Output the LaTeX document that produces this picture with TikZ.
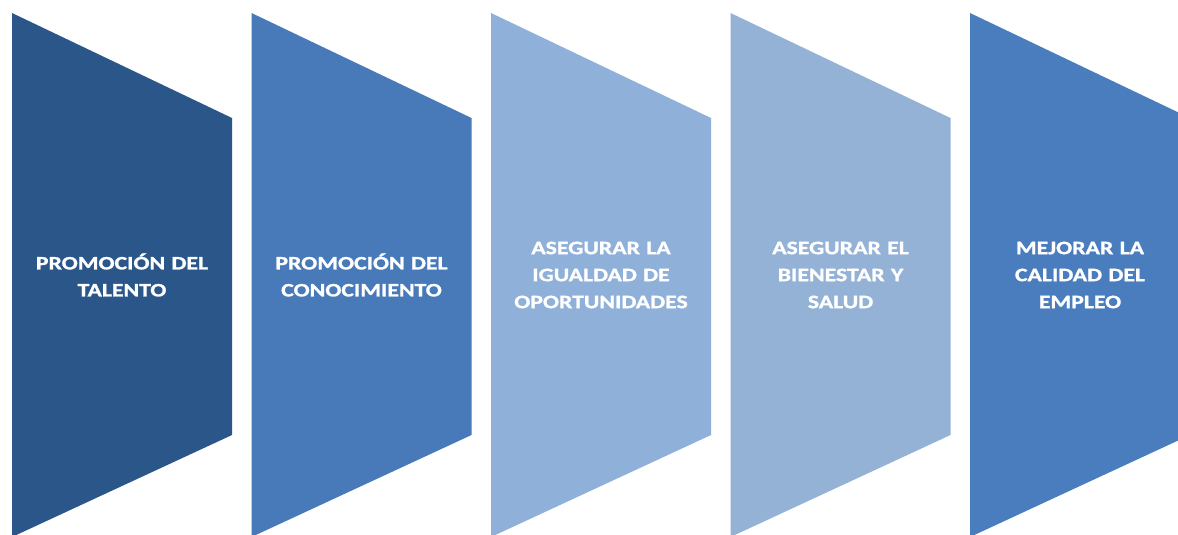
\documentclass[tikz,border=0pt]{standalone}
\usepackage{fontspec}
\setmainfont{Carlito}
\newfontfamily\rotulofont{Carlito}[FakeStretch=1.25, BoldFeatures={FakeBold=1.2}]
\definecolor{azulOscuro}{RGB}{42,86,138}
\definecolor{azulMedio}{RGB}{72,122,186}
\definecolor{azulClaro}{RGB}{143,176,216}
\definecolor{azulPalido}{RGB}{148,178,214}
\definecolor{azulVivo}{RGB}{74,125,190}
\tikzset{
  rotulo/.style={text=white, font=\rotulofont\bfseries\fontsize{19}{27}\selectfont, align=center, text width=215pt}
}
\begin{document}
\begin{tikzpicture}[x=1pt, y=-1pt]
  \useasboundingbox (0,0) rectangle (1178,535);
  \clip (0,0) rectangle (1178,535);
  \foreach \i/\col/\txt in {0/azulOscuro/{PROMOCIÓN DEL\\TALENTO},
                            1/azulMedio/{PROMOCIÓN DEL\\CONOCIMIENTO},
                            2/azulClaro/{ASEGURAR LA\\IGUALDAD DE\\OPORTUNIDADES},
                            3/azulPalido/{ASEGURAR EL\\BIENESTAR Y\\SALUD},
                            4/azulVivo/{MEJORAR LA\\CALIDAD DEL\\EMPLEO}}
  {
      \fill[\col] (12+239.5*\i,13) -- ++(220,105) -- ++(0,317) -- ++(-220,102) -- cycle;
      \node[rotulo] (etapa\i) at (122+239.5*\i,275) {\txt};
  }
\end{tikzpicture}
\end{document}
